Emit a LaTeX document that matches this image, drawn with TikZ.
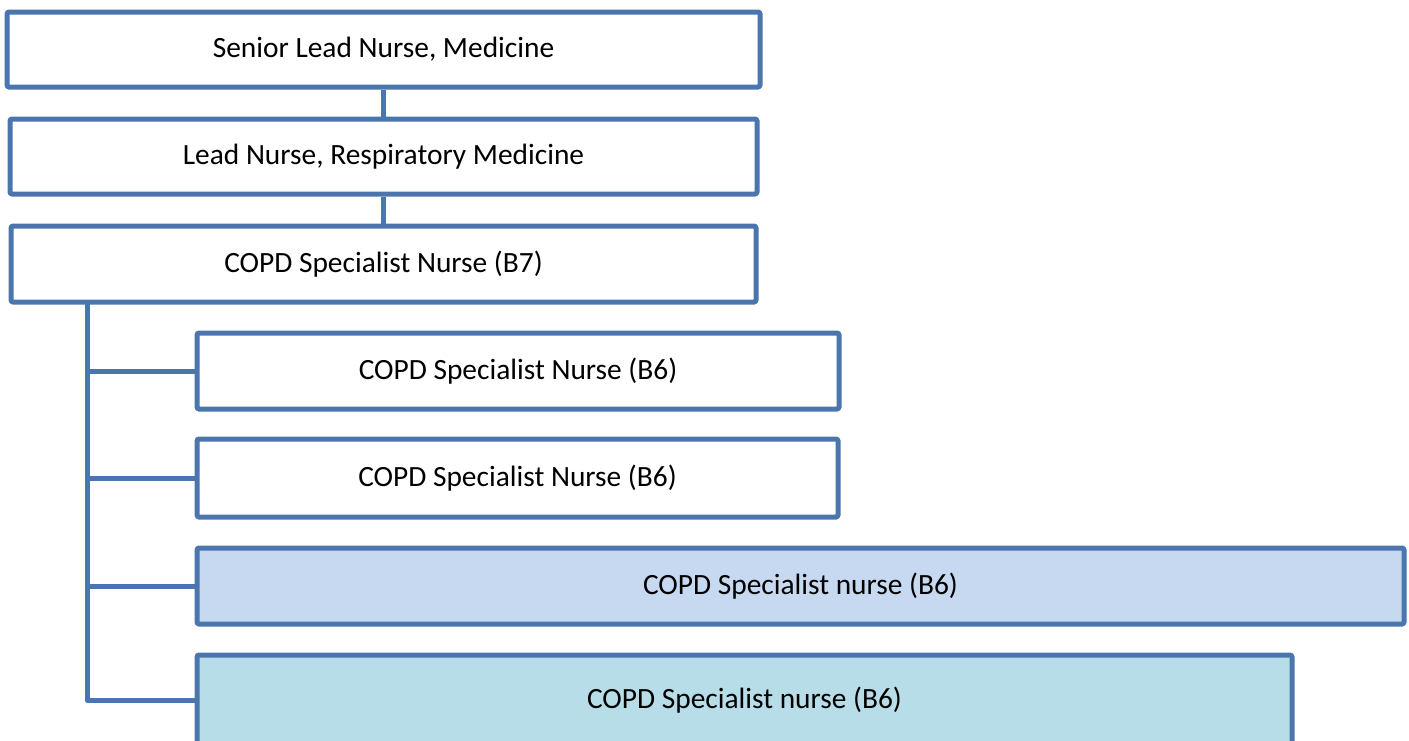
\documentclass[tikz,border=0pt]{standalone}
\usepackage{fontspec}
\setmainfont{Carlito}
\definecolor{boxline}{HTML}{4A76AD}
\definecolor{fillblue}{HTML}{C6D9F0}
\definecolor{fillcyan}{HTML}{B7DDE8}
\begin{document}
\begin{tikzpicture}[x=1pt, y=-1pt, line join=round,
    post/.style={draw=boxline, line width=5pt, rounded corners=1.5pt, fill=white,
      inner sep=0pt, font=\fontsize{29.4}{34}\selectfont},
    link/.style={draw=boxline, line width=5pt}]
  % Page frame
  \useasboundingbox (0,0) rectangle (1409,740);
  \clip (0,0) rectangle (1409,740);

  % Upper chain
  \node[post, minimum width=753pt, minimum height=75pt] (senior) at (383.5,49.5) {Senior Lead Nurse, Medicine};
  \node[post, minimum width=747pt, minimum height=75pt] (lead) at (383.5,156.5) {Lead Nurse, Respiratory Medicine};
  \node[post, minimum width=745pt, minimum height=76pt] (copdb7) at (383.5,264) {COPD Specialist Nurse (B7)};

  % Band 6 posts
  \node[post, minimum width=642pt, minimum height=76pt] (copda) at (518,371) {COPD Specialist Nurse (B6)};
  \node[post, minimum width=641pt, minimum height=78pt] (copdb) at (517.5,478) {COPD Specialist Nurse (B6)};
  \node[post, fill=fillblue, minimum width=1207pt, minimum height=76pt] (copdc) at (800.5,586) {COPD Specialist nurse (B6)};
  \node[post, fill=fillcyan, minimum width=1095pt, minimum height=90pt] (copdd) at (744.5,700) {COPD Specialist nurse (B6)};

  % Connectors
  \draw[link] (senior) -- (lead);
  \draw[link] (lead) -- (copdb7);
  \coordinate (trunk) at (87,302);
  \draw[link] (trunk) |- (copda.west);
  \draw[link] (trunk) |- (copdb.west);
  \draw[link] (trunk) |- (copdc.west);
  \draw[link] (trunk) |- (copdd.west);
\end{tikzpicture}
\end{document}
